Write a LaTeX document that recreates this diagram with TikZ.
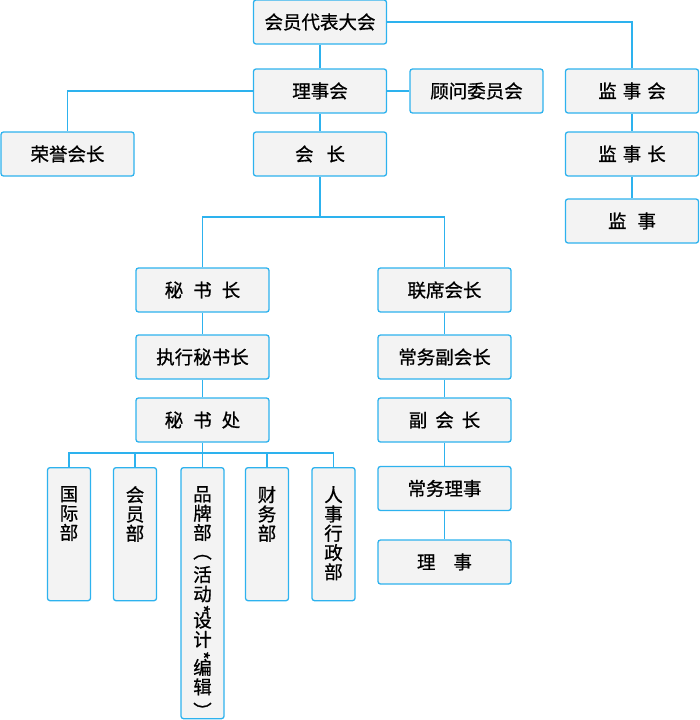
\documentclass[tikz,border=0pt]{standalone}
\usepackage{fontspec}
\newfontfamily\cjk[FakeBold=0.8]{Noto Sans CJK SC}
\definecolor{lineblue}{RGB}{45,178,238}
\definecolor{boxgray}{RGB}{243,243,243}
\newcommand\vparen[2]{\raisebox{#2}{\rotatebox[origin=c]{-90}{#1}}}
\newcommand\vstar{\smash{\rotatebox[origin=c]{-90}{*}}}
\begin{document}
\begin{tikzpicture}[x=1pt,y=-1pt,
  box/.style={draw=lineblue,fill=boxgray,line width=1.3pt,rounded corners=2.5pt,
    minimum width=133pt,minimum height=44pt,inner sep=0pt,
    font=\cjk\fontsize{18.5}{19}\selectfont},
  deptbox/.style={box,minimum width=43pt,anchor=north},
  vtext/.style={inner sep=0pt,anchor=north,align=center,
    font=\cjk\fontsize{18.5}{19.3}\selectfont},
  conn/.style={draw=lineblue,line width=1.3pt}]
\useasboundingbox (0,0) rectangle (700,720);
% top level
\node[box] (dbdh) at (320,22) {会员代表大会};
\node[box] (lsh) at (320,91) {理事会};
\node[box] (gwwyh) at (476.5,91) {顾问委员会};
\node[box] (jsh) at (632,91) {监\hspace{6pt}事\hspace{6pt}会};
\node[box] (ryhz) at (67.5,154) {荣誉会长};
\node[box] (hz) at (320,154) {会\hspace{13pt}长};
\node[box] (jsz) at (632,154) {监\hspace{6pt}事\hspace{6pt}长};
\node[box] (js) at (632,221) {监\hspace{11pt}事};
% left column
\node[box] (msz) at (202.5,290) {秘\hspace{10pt}书\hspace{10pt}长};
\node[box] (zxmsz) at (202.5,357) {执行秘书长};
\node[box] (msc) at (202.5,420) {秘\hspace{10pt}书\hspace{10pt}处};
% right column
\node[box] (lxhz) at (444.5,290) {联席会长};
\node[box] (cwfhz) at (444.5,357) {常务副会长};
\node[box] (fhz) at (444.5,420) {副\hspace{8pt}会\hspace{8pt}长};
\node[box] (cwls) at (444.5,488.5) {常务理事};
\node[box] (ls) at (444.5,562) {理\hspace{18pt}事};
% departments
\node[deptbox,minimum height=133pt] (gjb) at (69,467) {};
\node[deptbox,minimum height=133pt] (hyb) at (135,467) {};
\node[deptbox,minimum height=251pt] (ppb) at (202.5,467) {};
\node[deptbox,minimum height=133pt] (cwb) at (267,467) {};
\node[deptbox,minimum height=133pt] (rsb) at (333.5,467) {};
\node[vtext] (gjbt) at ([yshift=-19pt]gjb.north) {国\\际\\部};
\node[vtext] (hybt) at ([yshift=-19pt]hyb.north) {会\\员\\部};
\node[vtext] (ppbt) at ([yshift=-19pt]ppb.north)
  {品\\牌\\部\\\vparen{（}{4pt}\\活\\动\\[-3.8pt]\vstar\\[-8.5pt]设\\计\\[-3pt]\vstar\\[-7.5pt]编\\辑\\\vparen{）}{-5pt}};
\node[vtext] (cwbt) at ([yshift=-19pt]cwb.north) {财\\务\\部};
\node[vtext] (rsbt) at ([yshift=-19pt]rsb.north) {人\\事\\行\\政\\部};
% connectors
\coordinate (hzbar) at (320,217);
\coordinate (mscbar) at (202.5,453);
\draw[conn] (dbdh.east) -| (jsh.north);
\draw[conn] (dbdh) -- (lsh);
\draw[conn] (lsh) -- (hz);
\draw[conn] (lsh) -- (gwwyh);
\draw[conn] (lsh.west) -| (ryhz.north);
\draw[conn] (jsh) -- (jsz);
\draw[conn] (jsz) -- (js);
\draw[conn] (hz.south) -- (hzbar);
\draw[conn] (msz.north) |- (hzbar) -| (lxhz.north);
\draw[conn] (msz) -- (zxmsz);
\draw[conn] (zxmsz) -- (msc);
\draw[conn] (lxhz) -- (cwfhz);
\draw[conn] (cwfhz) -- (fhz);
\draw[conn] (fhz) -- (cwls);
\draw[conn] (cwls) -- (ls);
\draw[conn] (msc.south) -- (mscbar);
\foreach \d in {gjb,hyb,ppb,cwb,rsb}
  \draw[conn] (mscbar) -| (\d.north);
\end{tikzpicture}
\end{document}
